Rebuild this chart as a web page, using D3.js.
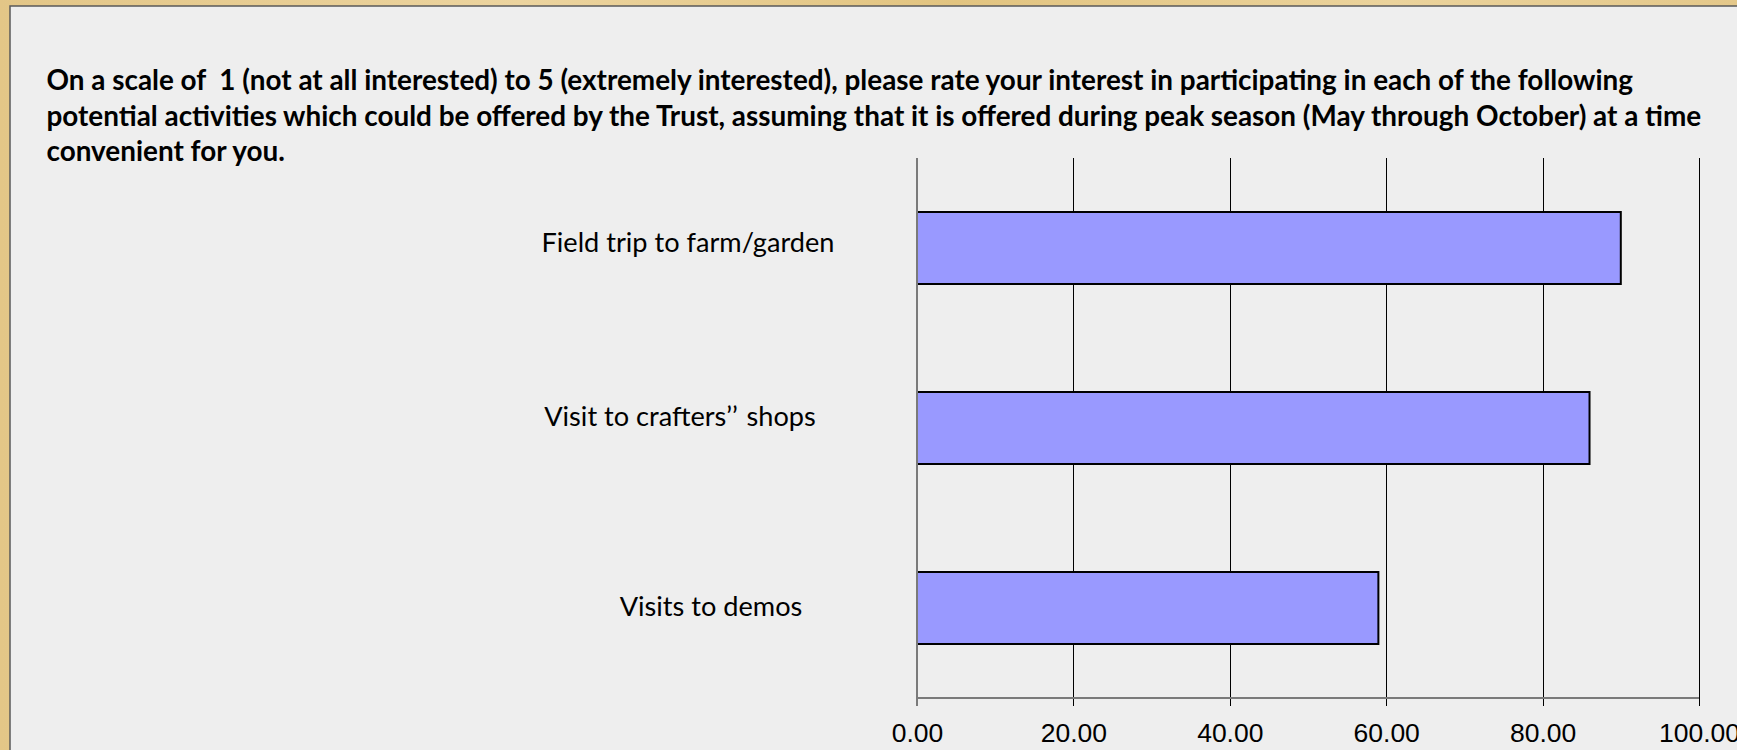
<!DOCTYPE html>
<html>
<head>
<meta charset="utf-8">
<script src="https://cdn.jsdelivr.net/npm/d3@7"></script>
<style>
  body { margin: 0; background: #e6cb8e; overflow: hidden; }
</style>
</head>
<body>
<div id="chart"></div>
<script>
const categories = ["Field trip to farm/garden", "Visit to crafters\u2019\u2019 shops", "Visits to demos"];
const values = [90, 86, 59];
const xTicks = [0, 20, 40, 60, 80, 100];
const titleLines = [
  "On a scale of  1 (not at all interested) to 5 (extremely interested), please rate your interest in participating in each of the following",
  "potential activities which could be offered by the Trust, assuming that it is offered during peak season (May through October) at a time",
  "convenient for you."
];

// the category labels sit in hand placed boxes, not on a common edge
const labelCenterX = [688, 680, 711];
const labelDy = [4, -2.5, 8];

const width = 1737;
const height = 750;
const plot = { left: 917, right: 1699, top: 158, bottom: 698 };

const svg = d3.select("#chart")
  .append("svg")
  .attr("width", width)
  .attr("height", height);

// parchment backdrop
const defs = svg.append("defs");
const grad = defs.append("linearGradient").attr("id", "parch").attr("x1", 0).attr("x2", 1);
[["0%", "#e3c687"], ["30%", "#ecd49f"], ["55%", "#e2c480"], ["80%", "#ebd39c"], ["100%", "#e4c88a"]]
  .forEach(([o, c]) => grad.append("stop").attr("offset", o).attr("stop-color", c));
svg.append("rect").attr("width", width).attr("height", height).attr("fill", "url(#parch)");

// grey panel
svg.append("rect")
  .attr("x", 10).attr("y", 6)
  .attr("width", width).attr("height", height)
  .attr("fill", "#eeeeee")
  .attr("stroke", "#5a5a5a")
  .attr("stroke-width", 1.5);

const title = svg.append("g")
  .attr("font-family", "Lato, 'Open Sans', sans-serif")
  .attr("font-weight", "bold")
  .attr("fill", "#000");

const titleText = title.selectAll("text")
  .data(titleLines)
  .join("text")
  .attr("x", 46.5)
  .attr("y", (d, i) => [90, 126, 161][i])
  .attr("font-size", 24)
  .style("white-space", "pre")
  .text(d => d);

// size the title so the two long lines match the reference widths on average
const tNodes = titleText.nodes();
const ratio = (1554 / tNodes[0].getComputedTextLength() + 1690 / tNodes[1].getComputedTextLength()) / 2;
titleText.attr("font-size", (24 * ratio).toFixed(2));

const x = d3.scaleLinear().domain([0, 100]).range([plot.left, plot.right]);
const y = d3.scaleBand()
  .domain(categories)
  .range([plot.top, plot.bottom])
  .paddingInner(0.6)
  .paddingOuter(0.3);

// gridlines, running a little below the axis as tick marks
svg.append("g")
  .selectAll("line")
  .data(xTicks.filter(d => d > 0))
  .join("line")
  .attr("x1", d => Math.round(x(d)) + 0.5).attr("x2", d => Math.round(x(d)) + 0.5)
  .attr("y1", plot.top).attr("y2", plot.bottom + 8)
  .attr("stroke", "#000")
  .attr("stroke-width", 1);

svg.append("g")
  .selectAll("rect")
  .data(values)
  .join("rect")
  .attr("x", x(0))
  .attr("y", (d, i) => y(categories[i]))
  .attr("width", d => x(d) - x(0))
  .attr("height", y.bandwidth())
  .attr("fill", "#9999ff")
  .attr("stroke", "#000")
  .attr("stroke-width", 2);

// value axis
const axis = svg.append("g")
  .attr("transform", `translate(0,${plot.bottom})`)
  .call(d3.axisBottom(x).tickValues(xTicks).tickFormat(d3.format(".2f")).tickSize(0).tickPadding(0));
axis.select(".domain").remove();
axis.selectAll(".tick line").remove();
axis.selectAll(".tick text")
  .attr("y", 44)
  .attr("dy", null)
  .attr("font-family", "'Liberation Sans', Arial, sans-serif")
  .attr("font-size", 26.5)
  .attr("fill", "#000");

svg.append("line")
  .attr("x1", x(0)).attr("x2", x(100))
  .attr("y1", plot.bottom).attr("y2", plot.bottom)
  .attr("stroke", "#7a7a7a")
  .attr("stroke-width", 2);

svg.append("line")
  .attr("x1", x(0)).attr("x2", x(0))
  .attr("y1", plot.top).attr("y2", plot.bottom + 8)
  .attr("stroke", "#7a7a7a")
  .attr("stroke-width", 2);

// category labels
const labels = svg.append("g")
  .attr("font-family", "Lato, 'Open Sans', sans-serif")
  .attr("fill", "#000")
  .selectAll("text")
  .data(categories)
  .join("text")
  .attr("x", (d, i) => labelCenterX[i])
  .attr("y", d => y(d) + y.bandwidth() / 2)
  .attr("dy", (d, i) => labelDy[i])
  .attr("text-anchor", "middle")
  .attr("font-size", 24);

// split on the doubled quote so the two marks keep a little gap, as in the original
labels.each(function (d) {
  const parts = d.split("\u2019");
  const t = d3.select(this);
  parts.forEach((p, k) => {
    t.append("tspan").attr("dx", k > 1 ? 2 : null).text(p + (k < parts.length - 1 ? "\u2019" : ""));
  });
});

const firstLabel = labels.nodes()[0];
const lfs = 24 * 293 / firstLabel.getComputedTextLength();
labels.attr("font-size", lfs.toFixed(2));
</script>
</body>
</html>
